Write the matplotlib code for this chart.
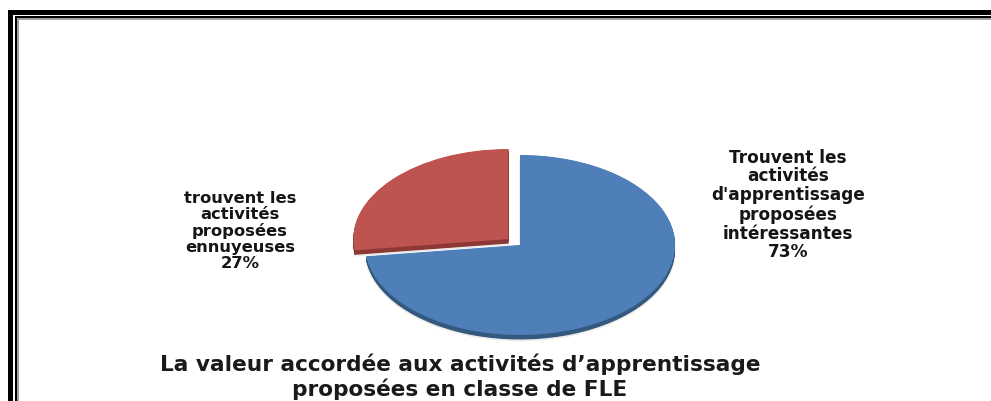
import matplotlib
matplotlib.use("Agg")
import matplotlib.pyplot as plt
from matplotlib.patches import Rectangle
import numpy as np

# Data
categories = ["trouvent les\nactivités\nproposées\nennuyeuses",
              "Trouvent les\nactivités\nd'apprentissage\nproposées\nintéressantes"]
values = [27, 73]
title_lines = ["La valeur accordée aux activités d’apprentissage",
               "proposées en classe de FLE"]

W, H = 991, 401
fig = plt.figure(figsize=(W / 100, H / 100), dpi=100)
fig.patch.set_facecolor("white")

def rect_px(x0, y0, x1, y1, color):
    # pixel coords with y from top
    fig.add_artist(Rectangle((x0 / W, 1 - y1 / H), (x1 - x0) / W, (y1 - y0) / H,
                             transform=fig.transFigure, facecolor=color,
                             edgecolor="none", zorder=0))

# Frame (cut off at right and bottom)
rect_px(8, 10, W + 5, 15.3, "black")
rect_px(8, 10, 13.3, H + 5, "black")
rect_px(15, 16, W + 5, 17.5, "black")
rect_px(15, 16, 16.8, H + 5, "black")
rect_px(16.8, 17.5, W + 5, 20, "#a0a0a0")
rect_px(16.8, 17.5, 19.3, H + 5, "#a0a0a0")

# Pie axes: center (520,245) px, rx=155, ry=90
cx, cy, rx, ry = 520, 245, 155, 90
lim = 1.25
ax = fig.add_axes([(cx - rx * lim) / W, (H - cy - ry * lim) / H,
                   2 * rx * lim / W, 2 * ry * lim / H])

face_colors = ["#BE5350", "#4E7FB8"]
side_colors = ["#8C3835", "#34597F"]
explode = [0.1, 0.0]
thick = 0.05  # in radius units (vertical)

# side (thickness) layers
for k in np.linspace(thick, 0.005, 8):
    ax.pie(values, colors=side_colors, startangle=90, counterclock=True,
           explode=explode, center=(0, -k), wedgeprops=dict(linewidth=0))
# soft shadow under the pie bottom
ax.pie(values, colors=["none", "none"], startangle=90, explode=explode,
       center=(0, -thick - 0.01), wedgeprops=dict(linewidth=1.2, edgecolor=(0, 0, 0, 0.08)))
# top faces
ax.pie(values, colors=face_colors, startangle=90, counterclock=True,
       explode=explode, wedgeprops=dict(linewidth=0))

ax.set_aspect("auto")
ax.set_xlim(-lim, lim)
ax.set_ylim(-lim, lim)
ax.axis("off")

font = ["DejaVu Sans"]

# Labels
fig.text(240 / W, 1 - 231 / H, f"{categories[0]}\n{values[0]}%", ha="center", va="center",
         fontsize=11.8, fontweight="bold", family=font, color="#151515", linespacing=1.08)
fig.text(788 / W, 1 - 205 / H, f"{categories[1]}\n{values[1]}%", ha="center", va="center",
         fontsize=12.2, fontweight="bold", family=font, color="#151515", linespacing=1.06)

# Title
fig.text(460 / W, 1 - 377 / H, "\n".join(title_lines), ha="center", va="center",
         fontsize=15.6, fontweight="bold", family=font, color="#1a1a1a", linespacing=1.18)

fig.savefig("out.png", dpi=100, facecolor="white")
